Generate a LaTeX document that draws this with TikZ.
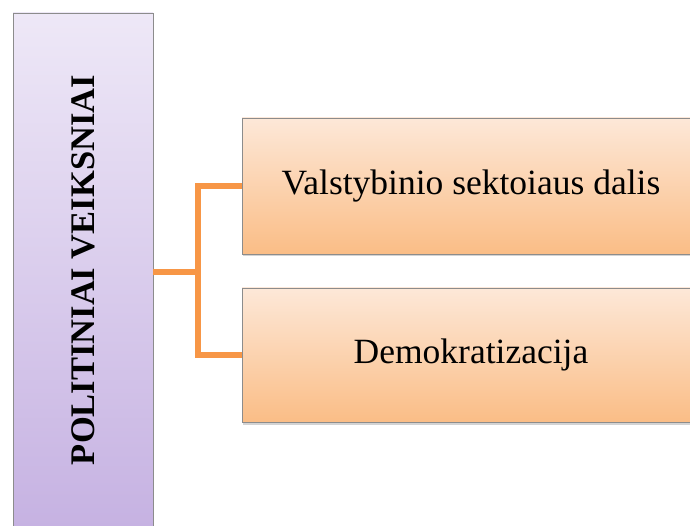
\documentclass[tikz,border=0pt]{standalone}
\usepackage{fontspec}
\setmainfont{Liberation Serif}
\usepackage{tikz}
\usetikzlibrary{shadows}

\definecolor{lilaTop}{HTML}{EEE8F7}
\definecolor{lilaBot}{HTML}{C6B2E2}
\definecolor{oranTop}{HTML}{FDE8D8}
\definecolor{oranBot}{HTML}{FABD86}
\definecolor{oranLine}{HTML}{F79646}
\definecolor{rimGray}{HTML}{8C8C8C}

\tikzset{
  mainbox/.style={draw=rimGray,line width=0.8pt,rotate=90,
    top color=lilaTop,bottom color=lilaBot,
    minimum width=514pt,minimum height=140pt,inner sep=0pt,
    font=\fontsize{34.5}{40}\selectfont\bfseries},
  factorbox/.style={draw=rimGray,line width=0.8pt,
    top color=oranTop,bottom color=oranBot,
    minimum width=458pt,inner sep=0pt,
    drop shadow={opacity=0.35,shadow xshift=1pt,shadow yshift=-2.5pt},
    font=\fontsize{35.5}{41}\selectfont},
  link/.style={draw=oranLine,line width=5.5pt,line join=miter}
}

\begin{document}
\begin{tikzpicture}[x=1pt,y=1pt]
\useasboundingbox (0,0) rectangle (690,-526);
\clip (0,0) rectangle (690,-526);
\path node (politic) at (83,-270)  [mainbox] {POLITINIAI VEIKSNIAI}
      node (sektor)  at (471,-186) [factorbox,minimum height=136pt] {Valstybinio sektoiaus dalis}
      node (demo)    at (471,-355) [factorbox,minimum height=134pt] {Demokratizacija};
\coordinate (fork) at (198,-272);
% rotated node: its south side faces right
\draw [link] (politic.south |- fork) -- (fork);
\draw [link] (sektor.west) -| (fork) |- (demo.west);
\end{tikzpicture}
\end{document}
